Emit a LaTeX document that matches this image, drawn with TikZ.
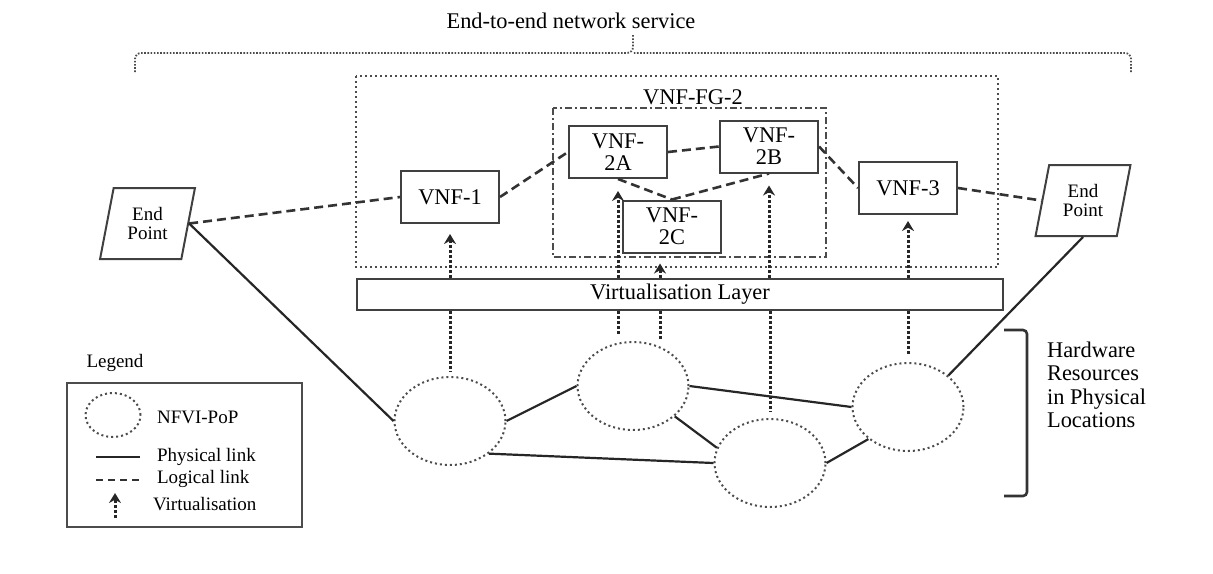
\documentclass[tikz,border=0pt]{standalone}
\usepackage{fontspec}
\setmainfont{Liberation Serif}
\usetikzlibrary{arrows,arrows.meta,calc}
\usetikzlibrary{positioning}
\usetikzlibrary{shapes}

\begin{document}
\begin{tikzpicture}[x=0.5pt,y=-0.5pt,>={Stealth[length=5pt,width=6pt]},
  vnfbox/.style={draw=black!75,line width=1pt,minimum width=49pt,minimum height=26pt,inner sep=0pt,align=center,font=\fontsize{11.2}{11}\selectfont},
  endpt/.style={draw=black!75,line width=1pt,trapezium,trapezium left angle=76,trapezium right angle=104,trapezium stretches=true,minimum width=47.5pt,minimum height=35.5pt,inner sep=0pt,align=center,font=\fontsize{9.5}{9.5}\selectfont},
  pop/.style={draw=black!70,ellipse,line width=1pt,dash pattern=on 1pt off 1.5pt,minimum width=55.5pt,minimum height=44pt,inner sep=0pt},
  phys/.style={draw=black!85,line width=1.1pt},
  logic/.style={draw=black!80,line width=1.3pt,dash pattern=on 4.5pt off 2.5pt},
  virt/.style={draw=black!85,line width=1.5pt,dash pattern=on 1.5pt off 1pt},
  big/.style={font=\fontsize{11.2}{11.75}\selectfont},
  small/.style={font=\fontsize{9.5}{10}\selectfont}]
\useasboundingbox (0,0) rectangle (1213,573);

% end-to-end brace
\node[big] (title) at (571,21) {End-to-end network service};
\draw[black!70,line width=0.9pt,dash pattern=on 0.8pt off 0.8pt,rounded corners=3pt] (135,72) |- (633,53) -- (633,35);
\draw[black!70,line width=0.9pt,dash pattern=on 0.8pt off 0.8pt,rounded corners=3pt] (1131,72) |- (633,53);

% service boxes
\draw[black!70,line width=1pt,dash pattern=on 1.2pt off 1.3pt] (356,76) rectangle (998,267);
\draw[black!70,line width=0.9pt,dash pattern=on 3.5pt off 1.5pt on 1pt off 1.5pt] (553,108) rectangle (826,257);
\node[big] (fg) at (693,97) {VNF-FG-2};

% VNFs and end points
\node[endpt] (epl) at (147.5,223.5) {End\\Point};
\node[endpt] (epr) at (1083,200.5) {End\\Point};
\node[vnfbox] (vnfone) at (450,197) {VNF-1};
\node[vnfbox] (vnftwoa) at (618,152) {VNF-\\2A};
\node[vnfbox] (vnftwob) at (769,146.5) {VNF-\\2B};
\node[vnfbox] (vnftwoc) at (672,226.5) {VNF-\\2C};
\node[vnfbox] (vnfthree) at (908,188) {VNF-3};

\draw[logic] (epl.east) -- (vnfone.west);
\draw[logic] (vnfone.east) -- (vnftwoa.west);
\draw[logic] (vnftwoa.east) -- (vnftwob.west);
\draw[logic] (vnftwoa.south) -- (vnftwoc.north);
\draw[logic] (vnftwoc.north) -- (vnftwob.south);
\draw[logic] (vnftwob.east) -- (vnfthree.west);
\draw[logic] (vnfthree.east) -- (epr.west);

% virtualisation layer
\node[draw=black!75,line width=1pt,minimum width=323pt,minimum height=15.5pt,inner sep=0pt,big] (vl) at (680,294.5) {Virtualisation Layer};
\coordinate (twocfoot) at ($(vnftwoc.south)+(-12,0)$);
\draw[virt,->,shorten >=5pt] (vl.north -| vnfone) -- (vnfone.south);
\draw[virt,->,shorten >=6pt] (vl.north -| vnftwoa) -- (vnftwoa.south);
\draw[virt,->,shorten >=5pt] (vl.north -| twocfoot) -- (twocfoot);
\draw[virt,->,shorten >=6pt] (vl.north -| vnftwob) -- (vnftwob.south);
\draw[virt,->,shorten >=3pt] (vl.north -| vnfthree) -- (vnfthree.south);

% NFVI-PoPs
\node[pop] (e1) at (450,421) {};
\node[pop] (e2) at (633,386) {};
\node[pop] (e3) at (908,407) {};
\node[pop] (e4) at (770,463) {};

\draw[virt,shorten >=2pt] (vl.south -| e1) -- (e1.north);
\draw[virt,shorten >=3pt] (vl.south -| vnftwoa) -- (vnftwoa |- e2.north);
\draw[virt,shorten >=1pt] (vl.south -| twocfoot) -- (twocfoot |- e2.north);
\draw[virt,shorten >=3pt] (vl.south -| e4) -- (e4.north);
\draw[virt,shorten >=3pt] (vl.south -| e3) -- (e3.north);

\draw[phys] (epl.east) -- (e1.west);
\draw[phys] (e1.east) -- (e2.west);
\draw[phys] (e1.-40) -- (e4.west);
\draw[phys] (e2.east) -- (e3.west);
\draw[phys] (e2.-36) -- (e4.164);
\draw[phys] (e4.east) -- (e3.-141);
\draw[phys] (e3.38) -- (epr.south);

% hardware bracket
\draw[black!80,line width=1.3pt,rounded corners=2pt] (1004,330) -- (1027,330) -- (1027,496) -- (1004,496);
\node[big,align=left,anchor=west] (hw) at (1040,385) {Hardware\\Resources\\in Physical\\Locations};

% legend
\node[small] (leg) at (115,363) {Legend};
\draw[black!70,line width=1pt] (67,383) rectangle (302,527);
\node[pop,minimum width=27.5pt,minimum height=22pt] (legpop) at (113,415) {};
\node[small,anchor=west] (legpoptxt) at (150,417) {NFVI-PoP};
\coordinate (physa) at (96,457);
\coordinate (physb) at (140,457);
\draw[phys] (physa) -- (physb);
\node[small,anchor=west] (physt) at (150,457) {Physical link};
\coordinate (loga) at (96,480);
\coordinate (logb) at (140,480);
\draw[logic,line width=1.2pt,dash pattern=on 3.5pt off 2.5pt] (loga) -- (logb);
\node[small,anchor=west] (logt) at (150,479) {Logical link};
\coordinate (virta) at (115,518);
\coordinate (virtb) at (115,493);
\draw[virt,->] (virta) -- (virtb);
\node[small,anchor=west] (virtt) at (146,504) {Virtualisation};
\end{tikzpicture}
\end{document}
